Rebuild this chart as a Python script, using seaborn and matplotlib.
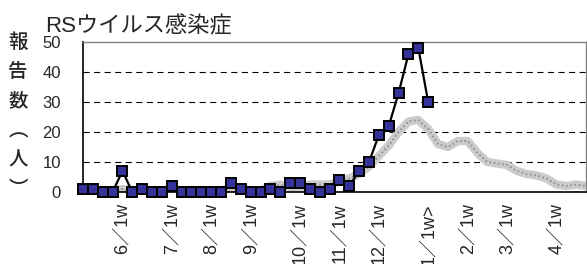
import numpy as np
import pandas as pd
import matplotlib
matplotlib.use("Agg")
import matplotlib.pyplot as plt
import seaborn as sns

# weekly reports, current season (week index 0 = first week of the chart)
cases = [1, 1, 0, 0, 7, 0, 1, 0, 0, 2, 0, 0, 0, 0, 0, 3, 1, 0, 0, 1,
         0, 3, 3, 1, 0, 1, 4, 2, 7, 10, 19, 22, 33, 46, 48, 30]

# grey band (previous season), full 52 weeks
band = [0.5, 0.5, 0.5, 0.5, 1, 0.5, 1, 0.5, 0.5, 1, 0.5, 0.5, 0.5, 0.5, 0.5,
        1.5, 1, 0.5, 0.5, 2, 2.5, 1.5, 1.5, 2.5, 2.5, 2.5, 3.5, 4.5, 6, 8.5,
        12, 15.5, 20, 23.5, 24, 21, 16, 15, 17, 17, 13, 10, 9.5, 9, 7, 6,
        5.5, 4.5, 2.5, 2, 2.5, 2]

tick_pos = [4, 9, 13, 17, 22, 26, 30, 35, 39, 43, 48]
tick_lab = ["6／1w", "7／1w", "8／1w", "9／1w", "10／1w", "11／1w", "12／1w",
            "1／1w>", "2／1w", "3／1w", "4／1w"]

yticks = [0, 10, 20, 30, 40, 50]
ylabel_chars = ["報", "告", "数", "︵", "人", "︶"]

df_band = pd.DataFrame({"week": np.arange(len(band)), "n": band})
df_cases = pd.DataFrame({"week": np.arange(len(cases)), "n": cases})

sns.set_style("white")
plt.rcParams["font.family"] = ["Liberation Sans", "Noto Sans CJK JP", "DejaVu Sans"]

fig = plt.figure(figsize=(5.87, 2.64), dpi=100)
ax = fig.add_axes([83 / 587, 1 - 192 / 264, 503 / 587, 150 / 264])

# stippled grey band: light base + fine dotted texture
sns.lineplot(data=df_band, x="week", y="n", ax=ax, color="#cbcbcb", lw=6,
             solid_capstyle="round", zorder=2)
sns.lineplot(data=df_band, x="week", y="n", ax=ax, color="#8c8c8c", lw=1.4,
             linestyle=(0, (0.8, 1.4)), zorder=2)

sns.lineplot(data=df_cases, x="week", y="n", ax=ax, color="black", lw=1.6,
             marker="s", markersize=6.8, markerfacecolor="#333399",
             markeredgecolor="black", markeredgewidth=1.4, zorder=4,
             clip_on=False)

ax.set_xlim(0, len(band) - 1)
ax.set_ylim(0, 50)
ax.set_yticks(yticks)
ax.set_yticklabels([str(v) for v in yticks], fontsize=12)

labels = [""] * len(band)
for p, t in zip(tick_pos, tick_lab):
    labels[p] = t
ax.set_xticks(np.arange(len(band)))
ax.set_xticklabels(labels, rotation=90, fontsize=13, va="top", ha="center")

ax.tick_params(axis="x", length=5, width=0.8, color="black", direction="out",
               pad=3)
ax.tick_params(axis="y", length=0, pad=16)
ax.set_xlabel("")
ax.set_ylabel("")

for v in yticks[1:-1]:
    ax.axhline(v, color="black", lw=0.8, linestyle=(0, (5.5, 4)), zorder=1)

for s in ["left", "bottom"]:
    ax.spines[s].set_color("black")
    ax.spines[s].set_linewidth(1.2)
for s in ["top", "right"]:
    ax.spines[s].set_color("#808080")
    ax.spines[s].set_linewidth(1.0)

fig.text(45 / 587, 1 - 32 / 264, "RSウイルス感染症", fontsize=16,
         va="baseline", ha="left")

for i, ch in enumerate(ylabel_chars):
    fig.text(18 / 587, 1 - (42 + i * 29.5) / 264, ch, fontsize=14,
             ha="center", va="center", fontweight="medium",
             family="Noto Sans CJK JP")

fig.savefig("out.png", dpi=100)
